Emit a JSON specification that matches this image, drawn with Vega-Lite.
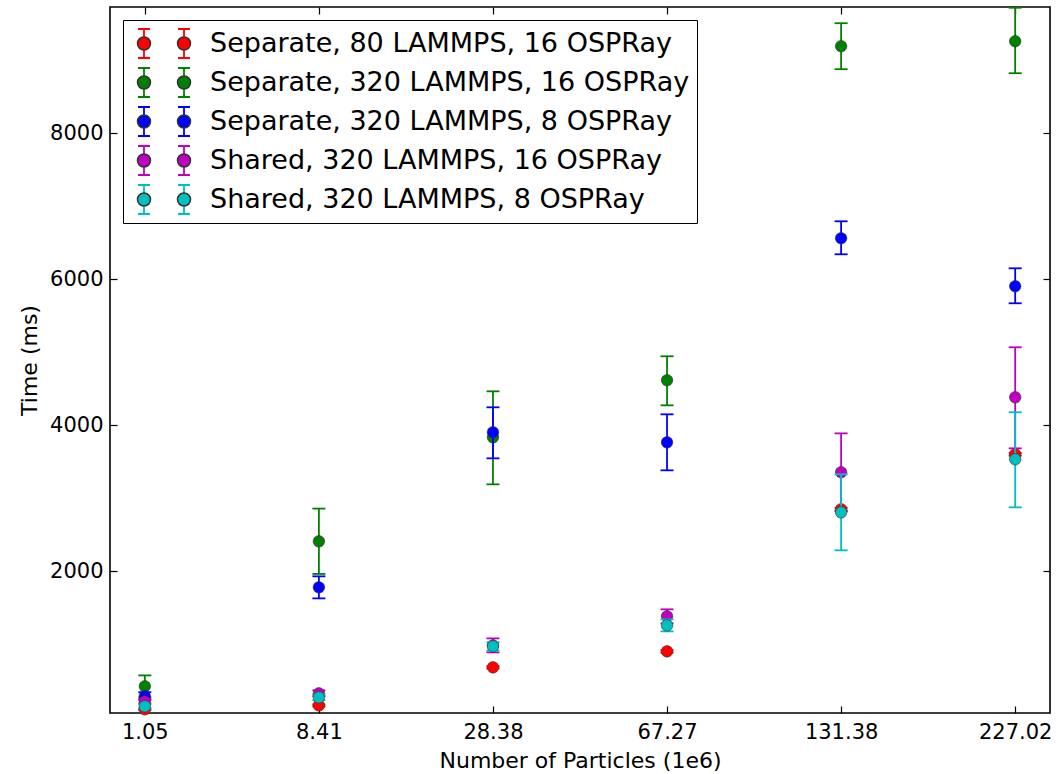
{
  "$schema": "https://vega.github.io/schema/vega-lite/v6.json",
  "width": 940,
  "height": 706,
  "autosize": {"type": "none"},
  "padding": {"left": 110, "top": 7, "right": 10, "bottom": 61},
  "background": "white",
  "config": {
    "font": "DejaVu Sans",
    "view": {"stroke": "#000000", "strokeWidth": 1.6},
    "axis": {
      "grid": false, "domain": false,
      "labelFont": "DejaVu Sans", "titleFont": "DejaVu Sans",
      "labelColor": "#000000", "titleColor": "#000000",
      "tickColor": "#000000", "tickWidth": 1.2, "tickSize": -7,
      "labelFontSize": 21, "titleFontSize": 22, "titleFontWeight": "normal"
    },
    "legend": {"labelFont": "DejaVu Sans"}
  },
  "data": {
    "values": [
      {"series": "Separate, 80 LAMMPS, 16 OSPRay", "particles": "1.05", "time": 110, "lo": 100, "hi": 120},
      {"series": "Separate, 80 LAMMPS, 16 OSPRay", "particles": "8.41", "time": 164, "lo": 150, "hi": 178},
      {"series": "Separate, 80 LAMMPS, 16 OSPRay", "particles": "28.38", "time": 685, "lo": 670, "hi": 700},
      {"series": "Separate, 80 LAMMPS, 16 OSPRay", "particles": "67.27", "time": 904, "lo": 888, "hi": 920},
      {"series": "Separate, 80 LAMMPS, 16 OSPRay", "particles": "131.38", "time": 2850, "lo": 2830, "hi": 2870},
      {"series": "Separate, 80 LAMMPS, 16 OSPRay", "particles": "227.02", "time": 3603, "lo": 3585, "hi": 3620},
      {"series": "Separate, 320 LAMMPS, 16 OSPRay", "particles": "1.05", "time": 425, "lo": 275, "hi": 575},
      {"series": "Separate, 320 LAMMPS, 16 OSPRay", "particles": "8.41", "time": 2411, "lo": 1965, "hi": 2860},
      {"series": "Separate, 320 LAMMPS, 16 OSPRay", "particles": "28.38", "time": 3836, "lo": 3192, "hi": 4466},
      {"series": "Separate, 320 LAMMPS, 16 OSPRay", "particles": "67.27", "time": 4617, "lo": 4274, "hi": 4946},
      {"series": "Separate, 320 LAMMPS, 16 OSPRay", "particles": "131.38", "time": 9193, "lo": 8878, "hi": 9508},
      {"series": "Separate, 320 LAMMPS, 16 OSPRay", "particles": "227.02", "time": 9261, "lo": 8823, "hi": 9720},
      {"series": "Separate, 320 LAMMPS, 8 OSPRay", "particles": "1.05", "time": 290, "lo": 240, "hi": 345},
      {"series": "Separate, 320 LAMMPS, 8 OSPRay", "particles": "8.41", "time": 1781, "lo": 1630, "hi": 1932},
      {"series": "Separate, 320 LAMMPS, 8 OSPRay", "particles": "28.38", "time": 3905, "lo": 3548, "hi": 4247},
      {"series": "Separate, 320 LAMMPS, 8 OSPRay", "particles": "67.27", "time": 3767, "lo": 3384, "hi": 4151},
      {"series": "Separate, 320 LAMMPS, 8 OSPRay", "particles": "131.38", "time": 6562, "lo": 6343, "hi": 6795},
      {"series": "Separate, 320 LAMMPS, 8 OSPRay", "particles": "227.02", "time": 5905, "lo": 5672, "hi": 6151},
      {"series": "Shared, 320 LAMMPS, 16 OSPRay", "particles": "1.05", "time": 219, "lo": 190, "hi": 250},
      {"series": "Shared, 320 LAMMPS, 16 OSPRay", "particles": "8.41", "time": 329, "lo": 290, "hi": 370},
      {"series": "Shared, 320 LAMMPS, 16 OSPRay", "particles": "28.38", "time": 986, "lo": 890, "hi": 1082},
      {"series": "Shared, 320 LAMMPS, 16 OSPRay", "particles": "67.27", "time": 1384, "lo": 1288, "hi": 1480},
      {"series": "Shared, 320 LAMMPS, 16 OSPRay", "particles": "131.38", "time": 3357, "lo": 2824, "hi": 3890},
      {"series": "Shared, 320 LAMMPS, 16 OSPRay", "particles": "227.02", "time": 4384, "lo": 3685, "hi": 5069},
      {"series": "Shared, 320 LAMMPS, 8 OSPRay", "particles": "1.05", "time": 151, "lo": 120, "hi": 180},
      {"series": "Shared, 320 LAMMPS, 8 OSPRay", "particles": "8.41", "time": 274, "lo": 235, "hi": 315},
      {"series": "Shared, 320 LAMMPS, 8 OSPRay", "particles": "28.38", "time": 973, "lo": 915, "hi": 1030},
      {"series": "Shared, 320 LAMMPS, 8 OSPRay", "particles": "67.27", "time": 1260, "lo": 1178, "hi": 1342},
      {"series": "Shared, 320 LAMMPS, 8 OSPRay", "particles": "131.38", "time": 2808, "lo": 2288, "hi": 3330},
      {"series": "Shared, 320 LAMMPS, 8 OSPRay", "particles": "227.02", "time": 3535, "lo": 2877, "hi": 4179}
    ]
  },
  "encoding": {
    "x": {"field": "particles", "type": "ordinal", "scale": {"type": "point", "domain": ["1.05", "8.41", "28.38", "67.27", "131.38", "227.02"], "padding": 0.2}, "axis": null},
    "y": {"field": "time", "type": "quantitative", "scale": {"domain": [60, 9730], "nice": false, "zero": false}, "axis": null}
  },
  "resolve": {"axis": {"x": "independent", "y": "independent"}},
  "layer": [
    {
      "mark": {"type": "point", "opacity": 0},
      "encoding": {
        "x": {"field": "particles", "type": "ordinal", "axis": {"orient": "bottom", "title": "Number of Particles (1e6)", "labelAngle": 0, "labelPadding": 15, "titlePadding": 8, "labelOverlap": false}},
        "y": {"field": "time", "type": "quantitative", "axis": {"orient": "left", "title": "Time (ms)", "values": [2000, 4000, 6000, 8000], "format": "d", "labelPadding": 14, "titlePadding": 8}}
      }
    },
    {
      "mark": {"type": "point", "opacity": 0},
      "encoding": {
        "x": {"field": "particles", "type": "ordinal", "axis": {"orient": "top", "title": null, "labels": false}},
        "y": {"field": "time", "type": "quantitative", "axis": {"orient": "right", "title": null, "labels": false, "values": [2000, 4000, 6000, 8000]}}
      }
    },
    {
      "transform": [{"filter": {"field": "series", "equal": "Separate, 80 LAMMPS, 16 OSPRay"}}],
      "layer": [
        {
          "mark": {"type": "rule", "strokeWidth": 1.8, "clip": true},
          "encoding": {
            "y": {"field": "lo", "type": "quantitative", "axis": null},
            "y2": {"field": "hi"},
            "stroke": {
              "field": "series", "type": "nominal",
              "scale": {"domain": ["Separate, 80 LAMMPS, 16 OSPRay", "Separate, 320 LAMMPS, 16 OSPRay", "Separate, 320 LAMMPS, 8 OSPRay", "Shared, 320 LAMMPS, 16 OSPRay", "Shared, 320 LAMMPS, 8 OSPRay"], "range": ["#ff0000", "#008000", "#0000ff", "#bf00bf", "#00bfbf"]},
              "legend": {
                "orient": "top-left", "offset": 13, "title": null, "direction": "vertical",
                "symbolType": "M -0.963 -0.537 L -0.519 -0.537 M -0.741 -0.537 L -0.741 -0.241 M -0.741 0.241 L -0.741 0.537 M -0.963 0.537 L -0.519 0.537 M 0.519 -0.537 L 0.963 -0.537 M 0.741 -0.537 L 0.741 -0.241 M 0.741 0.241 L 0.741 0.537 M 0.519 0.537 L 0.963 0.537",
                "symbolSize": 2916, "symbolOffset": 6, "labelOffset": 18, "labelFontSize": 27, "labelLimit": 1000, "labelOpacity": 0,
                "padding": 7, "rowPadding": 6, "clipHeight": 33,
                "encode": {"symbols": {"update": {"strokeWidth": {"value": 1.8}, "opacity": {"value": 1}, "fill": {"value": "transparent"}}}}
              }
            }
          }
        },
        {
          "transform": [{"fold": ["lo", "hi"], "as": ["end", "cap"]}],
          "mark": {"type": "point", "shape": "M -1 0 L 1 0", "filled": false, "size": 169, "strokeWidth": 1.8, "opacity": 1, "clip": true},
          "encoding": {
            "y": {"field": "cap", "type": "quantitative", "axis": null},
            "stroke": {"field": "series", "type": "nominal"}
          }
        },
        {
          "mark": {"type": "point", "filled": true, "size": 133, "stroke": "#333333", "strokeWidth": 0.6, "opacity": 1},
          "encoding": {
            "color": {
              "field": "series", "type": "nominal",
              "scale": {"domain": ["Separate, 80 LAMMPS, 16 OSPRay", "Separate, 320 LAMMPS, 16 OSPRay", "Separate, 320 LAMMPS, 8 OSPRay", "Shared, 320 LAMMPS, 16 OSPRay", "Shared, 320 LAMMPS, 8 OSPRay"], "range": ["#ff0000", "#008000", "#0000ff", "#bf00bf", "#00bfbf"]},
              "legend": {
                "orient": "none", "legendX": 13, "legendY": 13, "title": null, "direction": "vertical",
                "symbolType": "M -0.982 0 A 0.241 0.241 0 1 0 -0.5 0 A 0.241 0.241 0 1 0 -0.982 0 Z M 0.5 0 A 0.241 0.241 0 1 0 0.982 0 A 0.241 0.241 0 1 0 0.5 0 Z",
                "symbolSize": 2916, "symbolOffset": 6, "labelOffset": 18, "labelFontSize": 27, "labelColor": "#000000", "labelLimit": 1000,
                "padding": 7, "rowPadding": 6, "clipHeight": 33, "strokeColor": "#000000",
                "encode": {
                  "symbols": {"update": {"stroke": {"value": "#333333"}, "strokeWidth": {"value": 0.6}, "opacity": {"value": 1}}},
                  "legend": {"update": {"strokeWidth": {"value": 1.6}}}
                }
              }
            }
          }
        }
      ]
    },
    {
      "transform": [{"filter": {"field": "series", "equal": "Separate, 320 LAMMPS, 16 OSPRay"}}],
      "layer": [
        {"mark": {"type": "rule", "strokeWidth": 1.8, "clip": true}, "encoding": {"y": {"field": "lo", "type": "quantitative", "axis": null}, "y2": {"field": "hi"}, "stroke": {"field": "series", "type": "nominal"}}},
        {"transform": [{"fold": ["lo", "hi"], "as": ["end", "cap"]}], "mark": {"type": "point", "shape": "M -1 0 L 1 0", "filled": false, "size": 169, "strokeWidth": 1.8, "opacity": 1, "clip": true}, "encoding": {"y": {"field": "cap", "type": "quantitative", "axis": null}, "stroke": {"field": "series", "type": "nominal"}}},
        {"mark": {"type": "point", "filled": true, "size": 133, "stroke": "#333333", "strokeWidth": 0.6, "opacity": 1}, "encoding": {"color": {"field": "series", "type": "nominal"}}}
      ]
    },
    {
      "transform": [{"filter": {"field": "series", "equal": "Separate, 320 LAMMPS, 8 OSPRay"}}],
      "layer": [
        {"mark": {"type": "rule", "strokeWidth": 1.8, "clip": true}, "encoding": {"y": {"field": "lo", "type": "quantitative", "axis": null}, "y2": {"field": "hi"}, "stroke": {"field": "series", "type": "nominal"}}},
        {"transform": [{"fold": ["lo", "hi"], "as": ["end", "cap"]}], "mark": {"type": "point", "shape": "M -1 0 L 1 0", "filled": false, "size": 169, "strokeWidth": 1.8, "opacity": 1, "clip": true}, "encoding": {"y": {"field": "cap", "type": "quantitative", "axis": null}, "stroke": {"field": "series", "type": "nominal"}}},
        {"mark": {"type": "point", "filled": true, "size": 133, "stroke": "#333333", "strokeWidth": 0.6, "opacity": 1}, "encoding": {"color": {"field": "series", "type": "nominal"}}}
      ]
    },
    {
      "transform": [{"filter": {"field": "series", "equal": "Shared, 320 LAMMPS, 16 OSPRay"}}],
      "layer": [
        {"mark": {"type": "rule", "strokeWidth": 1.8, "clip": true}, "encoding": {"y": {"field": "lo", "type": "quantitative", "axis": null}, "y2": {"field": "hi"}, "stroke": {"field": "series", "type": "nominal"}}},
        {"transform": [{"fold": ["lo", "hi"], "as": ["end", "cap"]}], "mark": {"type": "point", "shape": "M -1 0 L 1 0", "filled": false, "size": 169, "strokeWidth": 1.8, "opacity": 1, "clip": true}, "encoding": {"y": {"field": "cap", "type": "quantitative", "axis": null}, "stroke": {"field": "series", "type": "nominal"}}},
        {"mark": {"type": "point", "filled": true, "size": 133, "stroke": "#333333", "strokeWidth": 0.6, "opacity": 1}, "encoding": {"color": {"field": "series", "type": "nominal"}}}
      ]
    },
    {
      "transform": [{"filter": {"field": "series", "equal": "Shared, 320 LAMMPS, 8 OSPRay"}}],
      "layer": [
        {"mark": {"type": "rule", "strokeWidth": 1.8, "clip": true}, "encoding": {"y": {"field": "lo", "type": "quantitative", "axis": null}, "y2": {"field": "hi"}, "stroke": {"field": "series", "type": "nominal"}}},
        {"transform": [{"fold": ["lo", "hi"], "as": ["end", "cap"]}], "mark": {"type": "point", "shape": "M -1 0 L 1 0", "filled": false, "size": 169, "strokeWidth": 1.8, "opacity": 1, "clip": true}, "encoding": {"y": {"field": "cap", "type": "quantitative", "axis": null}, "stroke": {"field": "series", "type": "nominal"}}},
        {"mark": {"type": "point", "filled": true, "size": 133, "stroke": "#333333", "strokeWidth": 0.6, "opacity": 1}, "encoding": {"color": {"field": "series", "type": "nominal"}}}
      ]
    }
  ]
}
